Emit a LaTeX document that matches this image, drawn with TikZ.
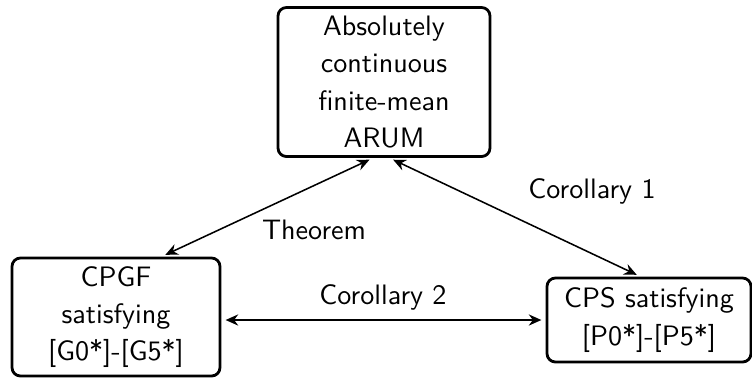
\documentclass[tikz,border=0pt]{standalone}
\usepackage{fontspec}
\setsansfont{lmsans10-regular.otf}
\usepackage{tikz}
\usetikzlibrary{arrows.meta,positioning}
\tikzset{resultbox/.style={draw,rounded corners=6pt,line width=2pt,align=center,inner sep=2pt,
    font=\sffamily\fontsize{20}{26.5}\selectfont},
  linklabel/.style={font=\sffamily\fontsize{20}{26.5}\selectfont},
  equiv/.style={<->,line width=1.1pt,shorten <=3pt,shorten >=3pt}}

\begin{document}
\begin{tikzpicture}[>={Stealth[length=9pt,width=8pt,inset=3pt]},x=0.025cm,y=-0.025cm]
    \useasboundingbox (0,0) rectangle (752,378);
    \node[resultbox,minimum width=212*0.025cm,minimum height=149*0.025cm] (arum) at (384,82)
      {Absolutely\\continuous\\finite-mean\\ARUM};
    \node[resultbox,minimum width=208*0.025cm,minimum height=118*0.025cm] (cpgf) at (116,317)
      {CPGF\\satisfying\\{}[G0*]-[G5*]};
    \node[resultbox,minimum width=204*0.025cm,minimum height=84*0.025cm] (cps) at (649,320)
      {CPS satisfying\\{}[P0*]-[P5*]};

    \draw[equiv] (cpgf.53) -- (arum.-98);
    \draw[equiv] (arum.-86) -- (cps.101);
    \draw[equiv] (cps.west -| cpgf.east) -- (cps.west);

    \node[linklabel] (thmlabel) at (314,230) {Theorem};
    \node[linklabel] (corlabela) at (592,191) {Corollary 1};
    \node[linklabel] (corlabelb) at (383,297) {Corollary 2};
  \end{tikzpicture}
\end{document}
